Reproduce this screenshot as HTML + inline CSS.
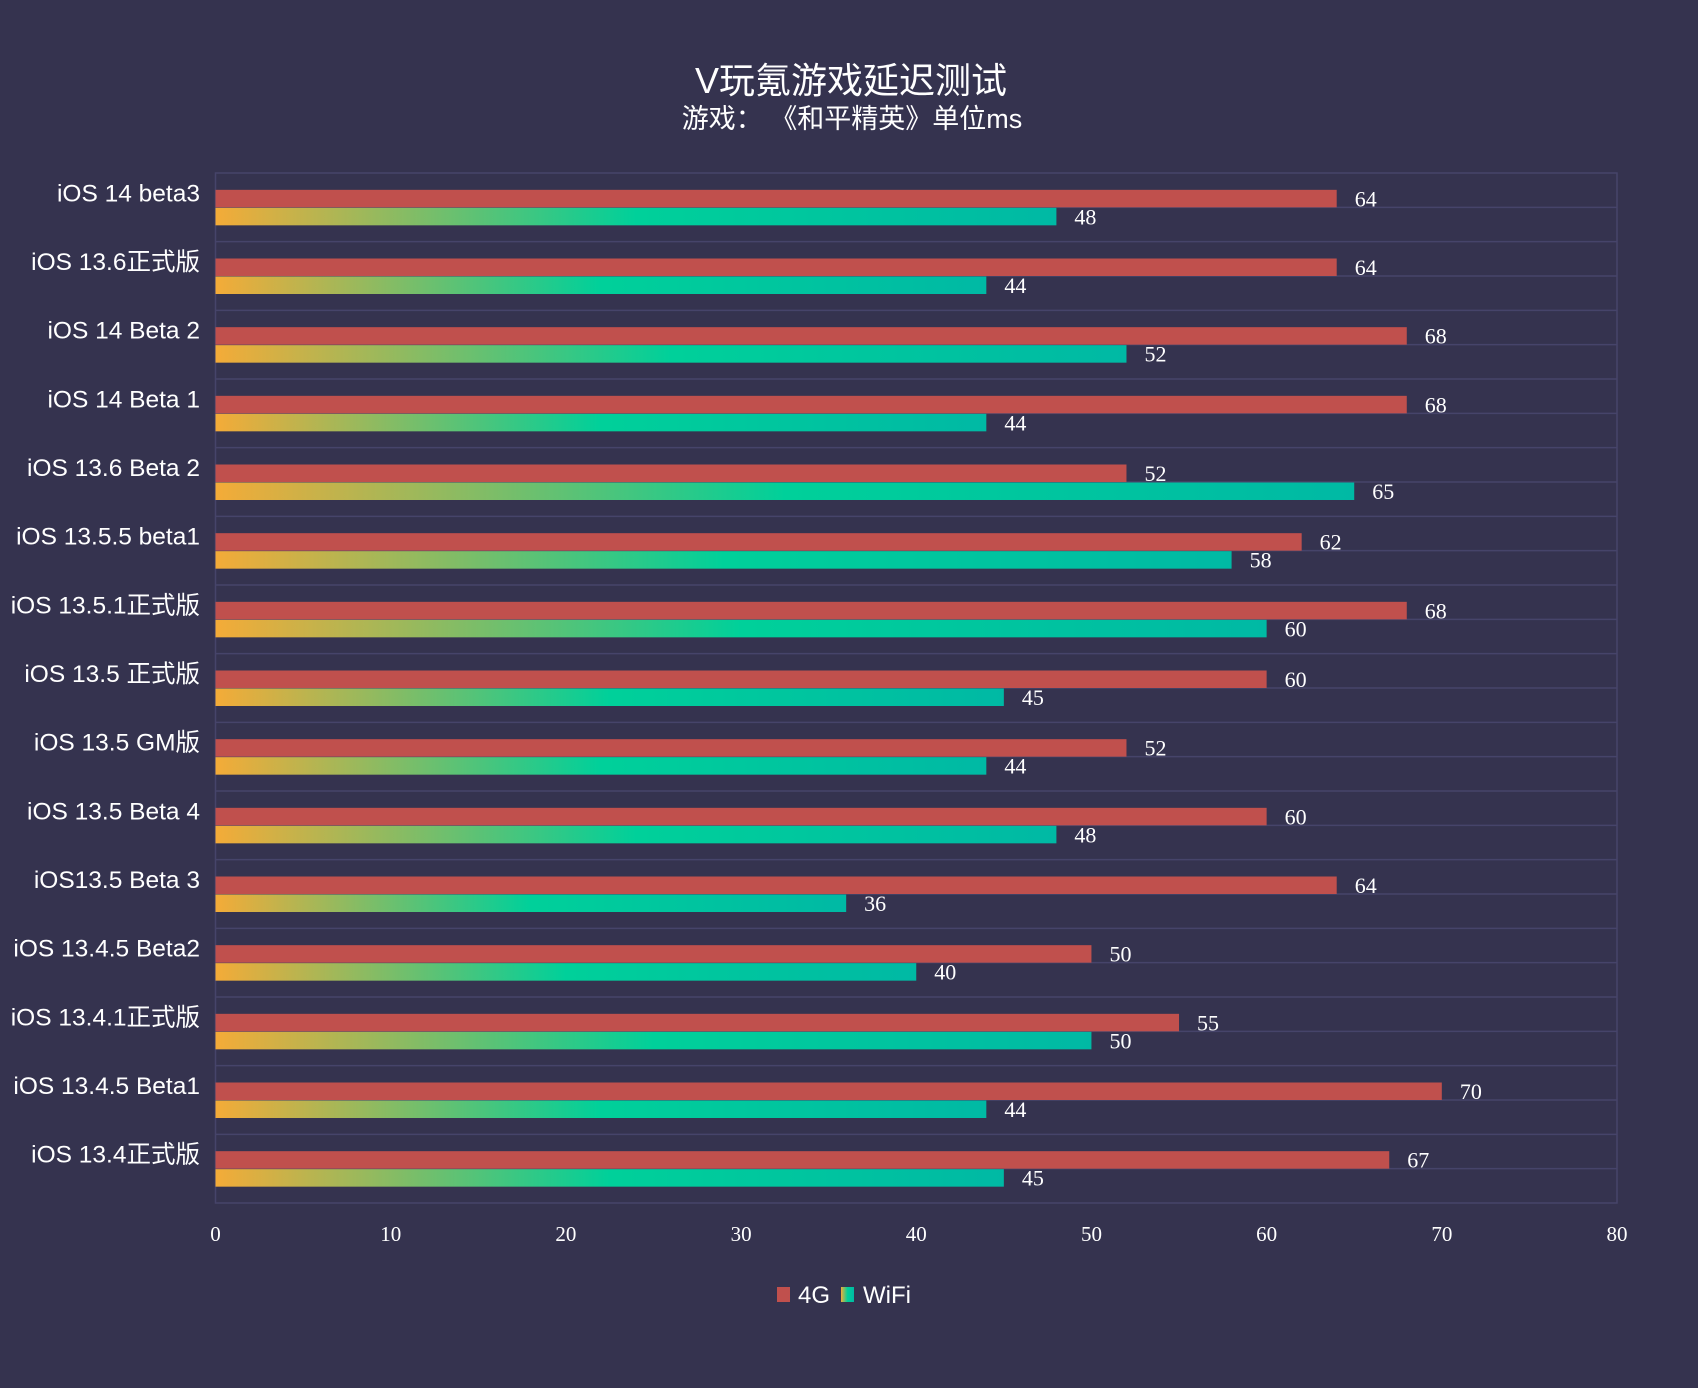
<!DOCTYPE html>
<html><head><meta charset="utf-8"><style>
html,body{margin:0;padding:0;background:#35334f;}
svg{display:block;}
</style></head><body>
<svg id="chart" width="1698" height="1388" xmlns="http://www.w3.org/2000/svg">
<defs>
<linearGradient id="wg" x1="0" x2="1" y1="0" y2="0">
<stop offset="0" stop-color="#f4ab38"/>
<stop offset="0.5" stop-color="#00d09a"/>
<stop offset="1" stop-color="#00b9a4"/>
</linearGradient>
</defs>
<rect x="0" y="0" width="1698" height="1388" fill="#35334f"/>
<text x="851" y="93" text-anchor="middle" fill="#fff" font-size="36" font-family="Liberation Sans, Noto Sans CJK SC, sans-serif">V玩氪游戏延迟测试</text>
<text x="852" y="128" text-anchor="middle" fill="#fff" font-size="27" font-family="Liberation Sans, Noto Sans CJK SC, sans-serif">游戏： 《和平精英》单位ms</text>
<g id="plot"></g>
<g>
<rect x="777" y="1287" width="13" height="15" fill="#c0504d"/>
<text x="798" y="1303" fill="#fff" font-size="24" font-family="Liberation Sans, sans-serif">4G</text>
<rect x="841" y="1287" width="13" height="15" fill="url(#wg)"/>
<text x="863" y="1303" fill="#fff" font-size="24" font-family="Liberation Sans, sans-serif">WiFi</text>
</g>
</svg>
<script>
const categories = ["iOS 14 beta3","iOS 13.6正式版","iOS 14 Beta 2","iOS 14 Beta 1","iOS 13.6 Beta 2","iOS 13.5.5 beta1","iOS 13.5.1正式版","iOS 13.5 正式版","iOS 13.5 GM版","iOS 13.5 Beta 4","iOS13.5 Beta 3","iOS 13.4.5 Beta2","iOS 13.4.1正式版","iOS 13.4.5 Beta1","iOS 13.4正式版"];
const values4G = [64,64,68,68,52,62,68,60,52,60,64,50,55,70,67];
const valuesWiFi = [48,44,52,44,65,58,60,45,44,48,36,40,50,44,45];
const ticks = [0,10,20,30,40,50,60,70,80];

const NS = "http://www.w3.org/2000/svg";
const g = document.getElementById('plot');
const X0 = 215.5, X1 = 1617, Y0 = 173, Y1 = 1203, MAX = 80;
const band = (Y1 - Y0) / categories.length;
const xs = v => X0 + (X1 - X0) * v / MAX;
function mk(tag, attrs, txt){const e=document.createElementNS(NS,tag);for(const k in attrs)e.setAttribute(k,attrs[k]);if(txt!==undefined)e.textContent=txt;g.appendChild(e);return e;}

const fr = mk('rect',{x:X0,y:Y0,width:X1-X0,height:Y1-Y0,fill:'none',stroke:'#46446a','stroke-width':1.5});


for(let i=1;i<categories.length*2;i++){
  const y=Y0+i*band/2;
  const l=mk('line',{x1:X0,x2:X1,y1:y,y2:y,stroke:'#46446a','stroke-width':1.5});
  
  
}
ticks.forEach(t=>{
  const e=mk('text',{x:xs(t),y:1241,'text-anchor':'middle',fill:'#fff','font-size':21,'font-family':'Liberation Serif, serif'},String(t));
  
  
});
categories.forEach((c,i)=>{
  const cy=Y0+band*i+band/2;
  const lab=mk('text',{x:200,y:cy-6,'text-anchor':'end',fill:'#fff','font-size':24.5,'font-family':'Liberation Sans, Noto Sans CJK SC, sans-serif'},c);
  
  
  const r=mk('rect',{x:X0,y:cy-17.5,width:xs(values4G[i])-X0,height:17.5,fill:'#c0504d'});
  
  
  const w=mk('rect',{x:X0,y:cy+0.5,width:xs(valuesWiFi[i])-X0,height:17.5,fill:'url(#wg)'});
  
  
  const t1=mk('text',{x:xs(values4G[i])+18,y:cy-1,fill:'#fff','font-size':22,'font-family':'Liberation Serif, serif'},String(values4G[i]));
  
  
  const t2=mk('text',{x:xs(valuesWiFi[i])+18,y:cy+17,fill:'#fff','font-size':22,'font-family':'Liberation Serif, serif'},String(valuesWiFi[i]));
  
  
});
</script>
</body></html>
